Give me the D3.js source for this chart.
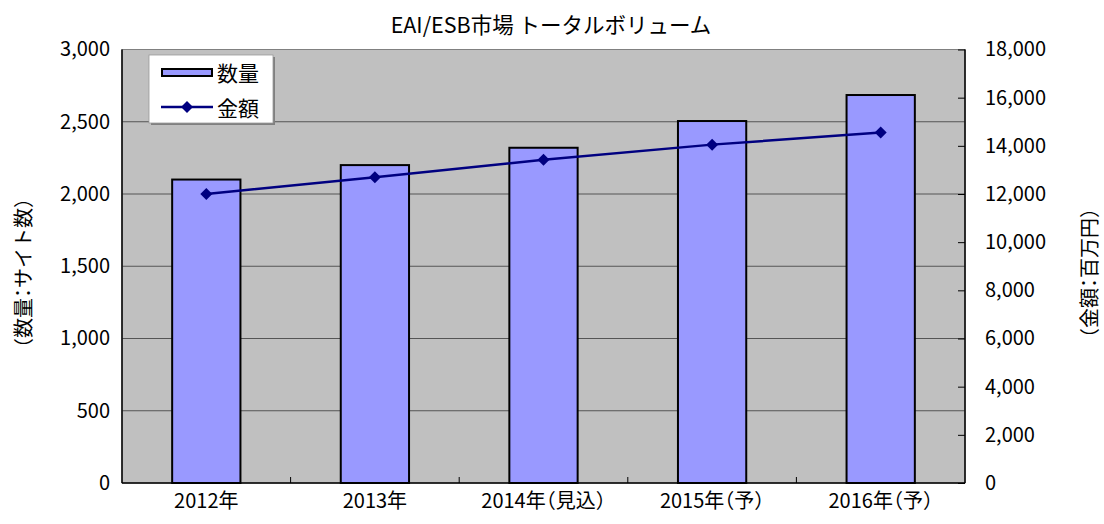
<!DOCTYPE html>
<html><head><meta charset="utf-8">
<script src="https://cdn.jsdelivr.net/npm/d3@7"></script>
<style>
body{margin:0;background:#fff;}
text{font-family:"Noto Sans CJK JP","Noto Sans",sans-serif;fill:#000;}
.halt{font-feature-settings:"halt";}
</style></head>
<body><svg id="c" width="1104" height="524"></svg>
<script>
const categories = ["2012年","2013年","2014年（見込）","2015年（予）","2016年（予）"];
const quantity = [2100, 2200, 2320, 2505, 2685];
const amount = [12000, 12700, 13420, 14050, 14550];
const leftTicks = [0,500,1000,1500,2000,2500,3000];
const rightTicks = [0,2000,4000,6000,8000,10000,12000,14000,16000,18000];
const title = "EAI/ESB市場 トータルボリューム";
const leftTitle = "（数量：サイト数）";
const rightTitle = "（金額：百万円）";
const seriesNames = ["数量","金額"];

const svg = d3.select("#c");
const L=122, R=965, T=49.5, B=483;
const FS = 20;
const x = d3.scaleBand().domain(categories).range([L,R]).paddingInner(0).paddingOuter(0);
const yL = d3.scaleLinear().domain([0,3000]).range([B,T]);
const yR = d3.scaleLinear().domain([0,18000]).range([B,T]);
const fmt = d3.format(",");

svg.append("rect").attr("x",L).attr("y",T).attr("width",R-L).attr("height",B-T).attr("fill","#c0c0c0");
// gridlines
svg.append("g").selectAll("line").data(leftTicks.slice(1,-1)).join("line")
  .attr("x1",L).attr("x2",R).attr("y1",d=>yL(d)).attr("y2",d=>yL(d))
  .attr("stroke","#555").attr("stroke-width",1);
// plot border
svg.append("rect").attr("x",L).attr("y",T).attr("width",R-L).attr("height",B-T)
  .attr("fill","none").attr("stroke","#808080").attr("stroke-width",1);

// bars
const bw = x.bandwidth()*0.405;
svg.append("g").selectAll("rect").data(categories).join("rect")
  .attr("x",(d)=>x(d)+x.bandwidth()/2-bw/2).attr("width",bw)
  .attr("y",(d,i)=>yL(quantity[i])).attr("height",(d,i)=>B-yL(quantity[i]))
  .attr("fill","#9999ff").attr("stroke","#000").attr("stroke-width",2);

// axes lines
svg.append("line").attr("x1",L).attr("x2",L).attr("y1",T).attr("y2",B).attr("stroke","#000").attr("stroke-width",1.5);
svg.append("line").attr("x1",L).attr("x2",R).attr("y1",B).attr("y2",B).attr("stroke","#000").attr("stroke-width",1.5);
svg.append("line").attr("x1",R).attr("x2",R).attr("y1",T).attr("y2",B).attr("stroke","#000").attr("stroke-width",1.5);

// left axis
const gl = svg.append("g").attr("transform",`translate(${L},0)`)
  .call(d3.axisLeft(yL).tickValues(leftTicks).tickFormat(fmt).tickSize(0).tickPadding(12));
gl.select(".domain").remove();
gl.selectAll("text").attr("font-size",FS).attr("font-family","'Noto Sans CJK JP'").attr("fill","#000");
// right axis
const gr = svg.append("g").attr("transform",`translate(${R},0)`)
  .call(d3.axisRight(yR).tickValues(rightTicks).tickFormat(fmt).tickSize(-7).tickPadding(20));
gr.select(".domain").remove();
gr.selectAll("line").attr("stroke","#000");
gr.selectAll("text").attr("font-size",FS).attr("font-family","'Noto Sans CJK JP'").attr("fill","#000");
// bottom axis
const gb = svg.append("g").attr("transform",`translate(0,${B})`)
  .call(d3.axisBottom(x).tickSize(0).tickPadding(11));
gb.select(".domain").remove();
gb.selectAll("text").attr("font-size",FS).attr("font-family","'Noto Sans CJK JP'").attr("class","halt").attr("fill","#000");
// category separator ticks (inside)
svg.append("g").selectAll("line").data(categories.slice(1)).join("line")
  .attr("x1",d=>x(d)).attr("x2",d=>x(d)).attr("y1",B).attr("y2",B-6).attr("stroke","#000");

// line
const cx = (d)=>x(d)+x.bandwidth()/2;
svg.append("path").datum(categories)
  .attr("d",d3.line().x(d=>cx(d)).y((d,i)=>yR(amount[i])))
  .attr("fill","none").attr("stroke","#000080").attr("stroke-width",2.5);
svg.append("g").selectAll("path").data(categories).join("path")
  .attr("transform",(d,i)=>`translate(${cx(d)},${yR(amount[i])})`)
  .attr("d","M0,-6L6,0L0,6L-6,0Z").attr("fill","#000080");

// title
svg.append("text").attr("x",551).attr("y",23).attr("dominant-baseline","central").attr("text-anchor","middle").attr("font-size",21.5).text(title);
svg.append("text").attr("class","halt").attr("transform","translate(22,273) rotate(-90)").attr("dominant-baseline","central").attr("text-anchor","middle").attr("font-size",FS).text(leftTitle);
svg.append("text").attr("class","halt").attr("transform","translate(1088,273) rotate(-90)").attr("dominant-baseline","central").attr("text-anchor","middle").attr("font-size",FS).text(rightTitle);

// legend
const lg = svg.append("g");
lg.append("rect").attr("x",151).attr("y",57).attr("width",124).attr("height",68).attr("fill","#808080");
lg.append("rect").attr("x",149).attr("y",55).attr("width",124).attr("height",68).attr("fill","#fff").attr("stroke","#999").attr("stroke-width",0.8);
lg.append("rect").attr("x",162).attr("y",69).attr("width",50).attr("height",7).attr("fill","#9999ff").attr("stroke","#000").attr("stroke-width",2);
lg.append("text").attr("x",217).attr("y",72).attr("dominant-baseline","central").attr("font-size",21).text(seriesNames[0]);
lg.append("line").attr("x1",161).attr("x2",213).attr("y1",107).attr("y2",107).attr("stroke","#000080").attr("stroke-width",2.5);
lg.append("path").attr("transform","translate(187,107)").attr("d","M0,-6L6,0L0,6L-6,0Z").attr("fill","#000080");
lg.append("text").attr("x",217).attr("y",107).attr("dominant-baseline","central").attr("font-size",21).text(seriesNames[1]);
</script></body></html>
